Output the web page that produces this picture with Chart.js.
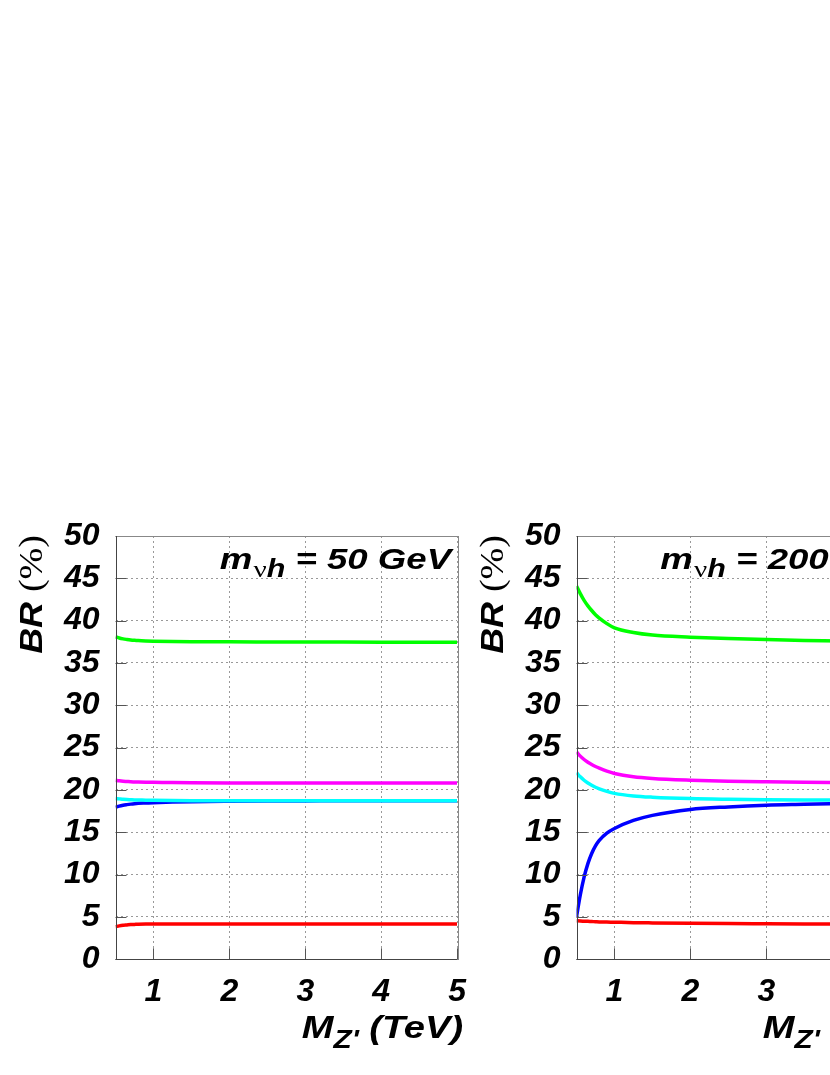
<!DOCTYPE html>
<html><head><meta charset="utf-8">
<script src="https://cdn.jsdelivr.net/npm/chart.js@4/dist/chart.umd.min.js"></script>
<style>
html,body{margin:0;padding:0;background:#fff;width:830px;height:1075px;overflow:hidden;position:relative;}
canvas{position:absolute;top:500px;}
#c1{left:0px;}
#c2{left:461px;}
</style></head><body>
<canvas id="c1" width="480" height="575"></canvas>
<canvas id="c2" width="480" height="575"></canvas>
<script>
// M_Z' values (TeV)
const mzp = [0.5, 0.55, 0.6, 0.65, 0.7, 0.75, 0.8, 0.9, 1.0, 1.25, 1.5, 2, 2.5, 3, 3.5, 4, 4.5, 5];
const xTicks = [1, 2, 3, 4, 5];
const yTicks = [0, 5, 10, 15, 20, 25, 30, 35, 40, 45, 50];

// Panel 1: m_nuh = 50 GeV  (BR in %)
const p1Green   = [38.1, 37.95, 37.85, 37.78, 37.72, 37.68, 37.65, 37.61, 37.58, 37.54, 37.52, 37.5, 37.49, 37.48, 37.47, 37.46, 37.45, 37.45];
const p1Magenta = [21.15, 21.08, 21.03, 21.0, 20.97, 20.95, 20.93, 20.91, 20.9, 20.87, 20.85, 20.83, 20.83, 20.82, 20.82, 20.82, 20.82, 20.82];
const p1Cyan    = [19.0, 18.95, 18.9, 18.87, 18.85, 18.83, 18.82, 18.8, 18.78, 18.75, 18.73, 18.72, 18.72, 18.72, 18.72, 18.72, 18.72, 18.72];
const p1Blue    = [17.95, 18.1, 18.2, 18.27, 18.33, 18.38, 18.42, 18.46, 18.5, 18.57, 18.62, 18.67, 18.7, 18.71, 18.72, 18.72, 18.72, 18.72];
const p1Red     = [3.85, 3.95, 4.02, 4.06, 4.1, 4.12, 4.14, 4.16, 4.17, 4.18, 4.18, 4.18, 4.18, 4.18, 4.18, 4.18, 4.18, 4.18];

// Panel 2: m_nuh = 200 GeV
const p2Green   = [44.1, 43.2, 42.4, 41.75, 41.2, 40.7, 40.3, 39.65, 39.15, 38.6, 38.3, 38.05, 37.88, 37.76, 37.67, 37.6, 37.55, 37.5];
const p2Magenta = [24.5, 24.0, 23.6, 23.27, 23.0, 22.77, 22.57, 22.22, 21.95, 21.55, 21.35, 21.15, 21.03, 20.96, 20.91, 20.88, 20.85, 20.83];
const p2Cyan    = [22.05, 21.55, 21.15, 20.82, 20.55, 20.32, 20.13, 19.83, 19.6, 19.3, 19.15, 18.98, 18.9, 18.85, 18.82, 18.8, 18.78, 18.76];
const p2Blue    = [5.0, 7.6, 9.7, 11.3, 12.5, 13.4, 14.05, 14.9, 15.45, 16.4, 17.0, 17.7, 18.0, 18.2, 18.3, 18.4, 18.47, 18.52];
const p2Red     = [4.55, 4.52, 4.5, 4.48, 4.46, 4.44, 4.42, 4.4, 4.38, 4.33, 4.3, 4.25, 4.22, 4.2, 4.18, 4.16, 4.15, 4.14];

const colors = {green:'#00ff00', magenta:'#ff00ff', cyan:'#00ffff', blue:'#0000ff', red:'#ff0000'};
const FONT = '"Liberation Sans", Arial, sans-serif';

function ds(vals, col){
  return {data: mzp.map((x,i)=>({x:x, y:vals[i]})), borderColor: col, backgroundColor: col,
    borderWidth: 3.5, pointRadius: 0, fill: false, cubicInterpolationMode: 'monotone'};
}

// draw a sequence of [text, font, dy] pieces, right-aligned at (rx, by), stretched by sx
function drawPieces(ctx, pieces, rx, by, sx){
  let w = 0;
  pieces.forEach(p=>{ ctx.font = p[1]; p.w = ctx.measureText(p[0]).width; w += p.w + (p[3]||0); });
  ctx.save();
  ctx.translate(rx, by);
  ctx.scale(sx, 1);
  let x = -w;
  pieces.forEach(p=>{ ctx.font = p[1]; ctx.fillText(p[0], x, p[2]); x += p.w + (p[3]||0); });
  ctx.restore();
}

const decor = {
  id: 'decor',
  afterDraw(chart, args, opts){
    const ctx = chart.ctx, a = chart.chartArea;
    const xs = chart.scales.x, ys = chart.scales.y;
    ctx.save();
    // tick marks
    ctx.strokeStyle = '#555'; ctx.lineWidth = 1;
    ctx.beginPath();
    xTicks.forEach(v=>{ const px = Math.round(xs.getPixelForValue(v))+0.5; ctx.moveTo(px, a.bottom); ctx.lineTo(px, a.bottom-11); });
    yTicks.forEach(v=>{ const py = Math.round(ys.getPixelForValue(v))+0.5; ctx.moveTo(a.left, py); ctx.lineTo(a.left+11, py); });
    ctx.stroke();
    // frame
    ctx.strokeStyle = '#888'; ctx.lineWidth = 1;
    ctx.strokeRect(Math.round(a.left)+0.5, Math.round(a.top)+0.5, Math.round(a.right-a.left), Math.round(a.bottom-a.top));
    ctx.strokeStyle = '#444';
    ctx.beginPath();
    ctx.moveTo(Math.round(a.left)+0.5, a.top); ctx.lineTo(Math.round(a.left)+0.5, a.bottom);
    ctx.moveTo(a.left, Math.round(a.bottom)+0.5); ctx.lineTo(a.right, Math.round(a.bottom)+0.5);
    ctx.stroke();

    ctx.fillStyle = '#000';
    ctx.textBaseline = 'alphabetic';
    ctx.textAlign = 'left';
    // panel title
    const big = 'bold italic 30px ' + FONT;
    drawPieces(ctx, [
      ['m', big, 0, 1],
      ['\u03BD', '24px "Liberation Serif", serif', 8],
      ['h', 'bold italic 25px ' + FONT, 8],
      [' = ' + opts.mass + ' GeV', big, 0]
    ], a.right - 6, a.top + 33, 1.22);

    // x title
    const xt = 'bold italic 32px ' + FONT;
    drawPieces(ctx, [
      ['M', xt, 0],
      ["Z'", 'bold italic 25px ' + FONT, 10],
      [' (TeV)', xt, 0]
    ], a.right + 6, a.bottom + 79, 1.19);

    // y title (rotated)
    ctx.translate(42, 35);
    ctx.rotate(-Math.PI/2);
    drawPieces(ctx, [
      ['BR ', 'bold italic 32px ' + FONT, 0],
      ['(%)', '34px "Liberation Serif", serif', 0]
    ], 0, 0, 1.12);
    ctx.restore();
  }
};

function makeChart(id, series, mass){
  return new Chart(document.getElementById(id), {
    type: 'line',
    data: { datasets: [
      ds(series[0], colors.green), ds(series[1], colors.magenta), ds(series[2], colors.cyan),
      ds(series[3], colors.blue), ds(series[4], colors.red)
    ]},
    options: {
      responsive: false, animation: false, devicePixelRatio: 1,
      layout: { padding: { top: 36, right: 18, left: 0, bottom: 35.7 } },
      plugins: { legend: {display:false}, tooltip: {enabled:false}, decor: {mass: mass} },
      scales: {
        x: { type: 'linear', min: 0.5, max: 5,
          afterBuildTicks: s => { s.ticks = xTicks.map(v=>({value:v})); },
          afterFit: s => { s.height = 80; },
          grid: { color: '#999', lineWidth: 1, drawTicks: false },
          border: { display: false, dash: [2,3] },
          ticks: { color: '#000', padding: 14, maxRotation: 0, autoSkip: false,
            font: { family: FONT, size: 32, weight: 'bold', style: 'italic' } }
        },
        y: { type: 'linear', min: 0, max: 50,
          afterBuildTicks: s => { s.ticks = yTicks.map(v=>({value:v})); },
          afterFit: s => { s.width = 115.5; },
          grid: { color: '#999', lineWidth: 1, drawTicks: false },
          border: { display: false, dash: [2,3] },
          ticks: { color: '#000', padding: 16, autoSkip: false,
            font: { family: FONT, size: 32, weight: 'bold', style: 'italic' } }
        }
      }
    },
    plugins: [decor]
  });
}

makeChart('c1', [p1Green, p1Magenta, p1Cyan, p1Blue, p1Red], '50');
makeChart('c2', [p2Green, p2Magenta, p2Cyan, p2Blue, p2Red], '200');
</script>
</body></html>
